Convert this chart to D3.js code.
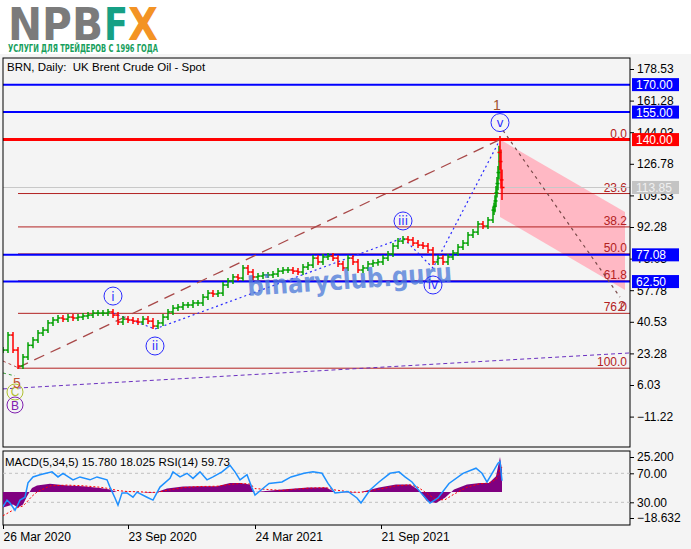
<!DOCTYPE html>
<html>
<head>
<meta charset="utf-8">
<script src="https://cdnjs.cloudflare.com/ajax/libs/d3/7.8.5/d3.min.js"></script>
<style>
body { margin: 0; background: #f4f4f4; }
svg { display: block; font-family: "Liberation Sans", Arial, sans-serif; }
</style>
</head>
<body>
<svg id="chart" width="691" height="549"></svg>
<script>
// weekly closes, one every 5 trading days from 26 Mar 2020
var weeklyClose = [25.1, 33.3, 25.1, 16.4, 21.3, 27.7, 30.6, 34.4, 36.0, 39.9,
    41.5, 42.6, 42.0, 43.1, 42.6, 43.1, 43.7, 44.2, 45.3, 45.3,
    45.3, 45.9, 44.2, 40.4, 42.0, 41.5, 40.9, 40.4, 42.0, 40.9,
    38.2, 39.9, 43.1, 45.9, 48.0, 48.6, 49.7, 49.7, 50.8, 50.8,
    54.0, 56.2, 55.7, 56.2, 60.6, 62.8, 65.0, 64.4, 69.9, 67.7,
    65.0, 65.5, 66.1, 66.1, 66.6, 68.2, 68.8, 68.8, 68.2, 67.7,
    70.4, 71.5, 75.3, 73.2, 75.9, 76.4, 75.3, 72.1, 69.9, 75.3,
    73.2, 68.8, 69.9, 72.1, 72.7, 73.2, 75.3, 77.5, 81.9, 84.6,
    85.7, 85.2, 83.5, 82.4, 81.9, 79.7, 73.2, 75.3, 73.2, 75.9,
    78.1, 81.3, 83.5, 87.9, 89.5, 93.9, 92.8, 96.1, 101.5];
// last daily bars (open, high, low, close), days 491..499
var lastDay0 = 491;
var lastBars = [[101.5, 104, 100.5, 103.5], [103.5, 108, 102, 106.5], [106.5, 113, 105, 111],
    [111, 118, 110, 116], [116, 124, 114, 122], [122, 135, 120, 133],
    [133, 140.3, 125, 128], [128, 133, 115, 118], [118, 122, 108.6, 113.85]];

var priceTicks = [178.53, 161.28, 144.03, 126.78, 109.53, 92.28, 75.03, 57.78, 40.53, 23.28, 6.03, -11.22];
var blueLevels = [170, 155, 77.08, 62.5];
var redLevel = 140;
var lastPrice = 113.85;

var fibRatios = [0, 23.6, 38.2, 50, 61.8, 76, 100];
var fibHigh = 140, fibLow = 15.2, fibStartDay = 15;

var waveNames = ['i', 'ii', 'iii', 'iv', 'v'];
var waveDays = [110, 152, 400, 430, 497];
var waveValues = [45.3, 36.6, 86.3, 69.9, 140];
var waveStart = [15, 15.5];

var channelDays = [497, 622];
var channelTop = [140, 100.5];
var channelBottom = [97.8, 57.9];
var targetLine = [[500, 145], [617, 54]];
var purpleLine = [[0, 3.9], [626, 23.5]];
var greenLine = [[0, 12.6], [12, 11]];
var brownStub = [[0, 19.1], [15, 15.5]];

var dateDays = [0, 125, 252, 378];
var dateLabels = ['26 Mar 2020', '23 Sep 2020', '24 Mar 2021', '21 Sep 2021'];

var macdDays = [0, 10, 15, 20, 24, 29, 34, 47, 64, 80, 97, 107, 114, 124, 137, 147, 154, 164,
    180, 197, 214, 227, 237, 247, 250, 252, 279, 305, 323, 332, 349, 358, 376, 393, 407,
    415, 424, 433, 442, 451, 464, 477, 486, 493, 497, 499];
var macdHist = [-11, -9, -11, -9, -3, 3, 4.7, 5.9, 4.7, 4.2, 3, 1.8, 0, 0.2, 0.1, -0.5, 0, 2.5,
    4, 4.2, 4.2, 6.6, 6.6, 5.4, 1, 0, 1.8, 3.2, 3.2, 0, -0.3, 0, 3.2, 5.4, 5.4,
    1.8, -6.6, -7.8, -4, 1.8, 5.4, 6.6, 6.6, 11.4, 25.2, 15.78];
var macdSignal = [-17, -13, -11, -10, -7, -3, 0, 4.5, 5, 4.5, 3.5, 2.4, 1.2, 0.4, 0.2, -0.2, -0.2, 1.2,
    3.2, 4, 4.2, 5.5, 6.2, 5.8, 4, 2.5, 1.2, 2.8, 3.2, 1.5, 0, -0.2, 2, 4.5, 5.2,
    3.5, -1, -5.5, -5.5, -1.5, 3.5, 6, 6.5, 9, 16, 18.025];
var macdMax = 25.2, macdMin = -18.632;

var rsiDays = [0, 4, 7, 12, 17, 22, 25, 30, 37, 49, 55, 60, 70, 77, 87, 94, 104, 107, 112, 115,
    119, 124, 130, 134, 144, 150, 157, 167, 170, 177, 184, 190, 197, 204, 210, 219, 227, 232,
    237, 244, 249, 252, 259, 266, 279, 288, 301, 310, 319, 325, 332, 345, 354, 358, 367, 376,
    387, 396, 402, 409, 418, 427, 435, 446, 460, 473, 479, 484, 490, 495, 497, 499];
var rsiValues = [24, 33, 29, 19, 33, 37, 57, 65, 68, 72, 65, 70, 61, 65, 61, 65, 61, 51, 36, 26,
    43, 43, 37, 44, 37, 33, 51, 63, 72, 65, 70, 63, 72, 61, 65, 72, 81, 72,
    61, 68, 50, 40, 48, 56, 58, 65, 70, 72, 70, 56, 43, 45, 36, 29, 47, 58,
    70, 72, 65, 58, 43, 29, 36, 56, 70, 77, 70, 58, 72, 84, 86, 59.73];
var rsiLevels = [70, 30];

var svg = d3.select('#chart');
var left = 3, right = 630;
var mainTop = 58, mainBottom = 447;
var oscTop = 451, oscBottom = 525;
var fibColor = '#b22222';

var x = d3.scaleLinear().domain([0, 627]).range([left, right]);
var y = d3.scaleLinear().domain([-11.22, 178.53]).range([416.6, 69]);
var macdY = d3.scaleLinear().domain([macdMin, macdMax]).range([518, 457]);
var rsiY = d3.scaleLinear().domain([30, 70]).range([502.3, 473.3]);

// header
svg.append('rect').attr('width', 691).attr('height', 54).attr('fill', '#ffffff');
var logo = svg.append('g').attr('font-family', 'DejaVu Sans').attr('font-weight', 'bold').attr('font-size', 44);
logo.append('text').attr('x', 8).attr('y', 40).attr('fill', '#7b7b7b')
    .attr('textLength', 95).attr('lengthAdjust', 'spacingAndGlyphs').text('NPB');
logo.append('text').attr('x', 104).attr('y', 40).attr('fill', '#16a085')
    .attr('textLength', 24).attr('lengthAdjust', 'spacingAndGlyphs').text('F');
logo.append('text').attr('x', 128).attr('y', 40).attr('fill', '#f39324')
    .attr('textLength', 30).attr('lengthAdjust', 'spacingAndGlyphs').text('X');
svg.append('text').attr('x', 8).attr('y', 52).attr('fill', '#17a05d')
    .attr('font-family', 'DejaVu Sans Condensed, DejaVu Sans').attr('font-weight', 'bold').attr('font-size', 10.5)
    .attr('textLength', 150).attr('lengthAdjust', 'spacingAndGlyphs')
    .text('УСЛУГИ ДЛЯ ТРЕЙДЕРОВ С 1996 ГОДА');

// clip regions
var defs = svg.append('defs');
defs.append('clipPath').attr('id', 'clipMain').append('rect')
    .attr('x', left).attr('y', mainTop).attr('width', right - left).attr('height', mainBottom - mainTop);
defs.append('clipPath').attr('id', 'clipOsc').append('rect')
    .attr('x', left).attr('y', oscTop).attr('width', right - left).attr('height', oscBottom - oscTop);

var gMain = svg.append('g').attr('clip-path', 'url(#clipMain)');

// pink channel
gMain.append('polygon')
    .attr('points', [
        [x(channelDays[0]), y(channelTop[0])], [x(channelDays[1]), y(channelTop[1])],
        [x(channelDays[1]), y(channelBottom[1])], [x(channelDays[0]), y(channelBottom[0])]
    ].map(function (p) { return p.join(','); }).join(' '))
    .attr('fill', '#ffb8c4');

// fibonacci levels
fibRatios.forEach(function (r) {
    var v = fibHigh - r / 100 * (fibHigh - fibLow);
    gMain.append('line').attr('x1', x(fibStartDay)).attr('x2', right).attr('y1', y(v)).attr('y2', y(v))
        .attr('stroke', fibColor).attr('stroke-width', 1);
    gMain.append('text').attr('x', 627).attr('y', y(v) - 2).attr('text-anchor', 'end')
        .attr('font-size', 12).attr('fill', fibColor).text(r.toFixed(1));
});

// horizontal levels
gMain.append('line').attr('x1', left).attr('x2', right).attr('y1', y(lastPrice)).attr('y2', y(lastPrice))
    .attr('stroke', '#c8c8c8').attr('stroke-width', 1);
blueLevels.forEach(function (v) {
    gMain.append('line').attr('x1', left).attr('x2', right).attr('y1', y(v)).attr('y2', y(v))
        .attr('stroke', '#0000ff').attr('stroke-width', 2);
});
gMain.append('line').attr('x1', left).attr('x2', right).attr('y1', y(redLevel)).attr('y2', y(redLevel))
    .attr('stroke', '#ff0000').attr('stroke-width', 3);

var seg = d3.line().x(function (d) { return x(d[0]); }).y(function (d) { return y(d[1]); });

gMain.append('path').attr('d', seg(purpleLine)).attr('fill', 'none')
    .attr('stroke', '#6a2fc0').attr('stroke-width', 1).attr('stroke-dasharray', '4,3');
gMain.append('path').attr('d', seg(greenLine)).attr('fill', 'none')
    .attr('stroke', '#3aa03a').attr('stroke-width', 1).attr('stroke-dasharray', '3,3');
gMain.append('path').attr('d', seg(brownStub)).attr('fill', 'none')
    .attr('stroke', '#b05050').attr('stroke-width', 1).attr('stroke-dasharray', '3,3');
gMain.append('path').attr('d', seg([waveStart, [waveDays[4], waveValues[4]]])).attr('fill', 'none')
    .attr('stroke', '#a84848').attr('stroke-width', 1.3).attr('stroke-dasharray', '11,7');

var wavePts = waveDays.map(function (d, i) { return [d, waveValues[i]]; });
gMain.append('path').attr('d', seg(wavePts)).attr('fill', 'none')
    .attr('stroke', '#2a2aff').attr('stroke-width', 1.2).attr('stroke-dasharray', '2,3');
gMain.append('path').attr('d', seg(targetLine)).attr('fill', 'none')
    .attr('stroke', '#7a4a4a').attr('stroke-width', 1.2).attr('stroke-dasharray', '3,4');

// price bars
var priceBars = weeklyClose.map(function (c, i) {
    var o = i === 0 ? c : weeklyClose[i - 1];
    return { day: i * 5, o: o, c: c, h: Math.max(o, c), l: Math.min(o, c) };
});
lastBars.forEach(function (b, i) {
    priceBars.push({ day: lastDay0 + i, o: b[0], h: b[1], l: b[2], c: b[3] });
});
var bars = gMain.selectAll('g.bar').data(priceBars).enter().append('g')
    .attr('class', 'bar')
    .attr('stroke', function (d) { return d.c >= d.o ? '#00a000' : '#ff0000'; })
    .attr('stroke-width', 1.5);
bars.append('line')
    .attr('x1', function (d) { return x(d.day); }).attr('x2', function (d) { return x(d.day); })
    .attr('y1', function (d) { return y(d.h) - 3; }).attr('y2', function (d) { return y(d.l) + 3; });
bars.append('line')
    .attr('x1', function (d) { return x(d.day) - 2.5; }).attr('x2', function (d) { return x(d.day); })
    .attr('y1', function (d) { return y(d.o); }).attr('y2', function (d) { return y(d.o); });
bars.append('line')
    .attr('x1', function (d) { return x(d.day); }).attr('x2', function (d) { return x(d.day) + 2.5; })
    .attr('y1', function (d) { return y(d.c); }).attr('y2', function (d) { return y(d.c); });

// watermark
svg.append('text').attr('x', 248).attr('y', 296)
    .attr('transform', 'rotate(-4,248,296)')
    .attr('font-family', 'DejaVu Sans').attr('font-weight', 'bold').attr('font-size', 27)
    .attr('textLength', 205).attr('lengthAdjust', 'spacingAndGlyphs')
    .attr('fill', '#4a78d8').attr('opacity', 0.75).text('binaryclub.guru');

// wave labels
wavePts.forEach(function (p, i) {
    var up = i % 2 === 0;
    var cx = x(p[0]), cy = y(p[1]) + (up ? -17 : 17);
    svg.append('circle').attr('cx', cx).attr('cy', cy).attr('r', 9)
        .attr('fill', 'none').attr('stroke', '#2a2aff').attr('stroke-width', 1);
    svg.append('text').attr('x', cx).attr('y', cy + 4.5).attr('text-anchor', 'middle')
        .attr('font-family', 'DejaVu Sans').attr('font-size', 12).attr('fill', '#2a2aff')
        .text(waveNames[i]);
});
var vx = x(waveDays[4]), vy = y(waveValues[4]);
svg.append('text').attr('x', vx - 3).attr('y', vy - 30).attr('text-anchor', 'middle')
    .attr('font-size', 14).attr('fill', '#a0522d').text('1');
svg.append('text').attr('x', x(targetLine[1][0]) + 2).attr('y', y(targetLine[1][1]) + 14).attr('text-anchor', 'middle')
    .attr('font-size', 14).attr('fill', '#b03030').text('2');

// start labels
var sx = x(waveStart[0]) - 3;
svg.append('circle').attr('cx', sx).attr('cy', 392).attr('r', 8)
    .attr('fill', 'none').attr('stroke', '#b0c030').attr('stroke-width', 1);
svg.append('text').attr('x', sx).attr('y', 396).attr('text-anchor', 'middle')
    .attr('font-size', 12).attr('fill', '#b0c030').text('C');
svg.append('text').attr('x', sx + 2).attr('y', 388).attr('text-anchor', 'middle')
    .attr('font-size', 14).attr('fill', '#c05030').text('5');
svg.append('circle').attr('cx', sx).attr('cy', 405).attr('r', 8)
    .attr('fill', 'none').attr('stroke', '#8020b0').attr('stroke-width', 1);
svg.append('text').attr('x', sx).attr('y', 409.5).attr('text-anchor', 'middle')
    .attr('font-size', 12).attr('fill', '#8020b0').text('B');

// frames
svg.append('rect').attr('x', left).attr('y', mainTop).attr('width', right - left).attr('height', mainBottom - mainTop)
    .attr('fill', 'none').attr('stroke', '#000').attr('stroke-width', 1);
svg.append('rect').attr('x', left).attr('y', oscTop).attr('width', right - left).attr('height', oscBottom - oscTop)
    .attr('fill', 'none').attr('stroke', '#000').attr('stroke-width', 1);

function styleAxis(g) {
    g.select('.domain').remove();
    g.selectAll('line').attr('stroke', '#000');
    g.selectAll('text').attr('font-size', 12).attr('fill', '#000')
        .attr('font-family', '"Liberation Sans", Arial, sans-serif');
}

// price axis
svg.append('g').attr('transform', 'translate(' + right + ',0)')
    .call(d3.axisRight(y).tickValues(priceTicks).tickFormat(d3.format('.2f')).tickSize(4))
    .call(styleAxis);

function priceBox(v, bg, fg) {
    svg.append('rect').attr('x', 632).attr('y', y(v) - 6.5).attr('width', 47).attr('height', 13).attr('fill', bg);
    svg.append('text').attr('x', 636).attr('y', y(v) + 4.5).attr('font-size', 12).attr('fill', fg).text(v.toFixed(2));
}
blueLevels.forEach(function (v) { priceBox(v, '#0000ff', '#ffffff'); });
priceBox(redLevel, '#ff0000', '#ffffff');
priceBox(lastPrice, '#c4c4c4', '#f0f0f0');

svg.append('text').attr('x', 7).attr('y', 71).attr('font-size', 11.5).attr('fill', '#000')
    .style('white-space', 'pre')
    .text('BRN, Daily:  UK Brent Crude Oil - Spot');

// oscillator panel
var gOsc = svg.append('g').attr('clip-path', 'url(#clipOsc)');
rsiLevels.forEach(function (v) {
    gOsc.append('line').attr('x1', left).attr('x2', right).attr('y1', rsiY(v)).attr('y2', rsiY(v))
        .attr('stroke', '#c0c0c0').attr('stroke-dasharray', '3,3');
});
var macdPts = macdDays.map(function (d, i) { return [d, macdHist[i], macdSignal[i]]; });
gOsc.append('path')
    .attr('d', d3.area().x(function (d) { return x(d[0]); }).y0(macdY(0)).y1(function (d) { return macdY(d[1]); })(macdPts))
    .attr('fill', '#800080');
gOsc.append('path')
    .attr('d', d3.line().x(function (d) { return x(d[0]); }).y(function (d) { return macdY(d[2]); })(macdPts))
    .attr('fill', 'none').attr('stroke', '#ff0000').attr('stroke-width', 1).attr('stroke-dasharray', '2,2');
gOsc.append('path')
    .attr('d', d3.line().x(function (d) { return x(d); }).y(function (d, i) { return rsiY(rsiValues[i]); })(rsiDays))
    .attr('fill', 'none').attr('stroke', '#1e90ff').attr('stroke-width', 1.5);

svg.append('text').attr('x', 5).attr('y', 466).attr('font-size', 11.5).attr('fill', '#000')
    .text('MACD(5,34,5) 15.780 18.025 RSI(14) 59.73');

svg.append('g').attr('transform', 'translate(' + right + ',0)')
    .call(d3.axisRight(macdY).tickValues([macdMax, macdMin]).tickFormat(d3.format('.3f')).tickSize(4))
    .call(styleAxis);
svg.append('g').attr('transform', 'translate(' + right + ',0)')
    .call(d3.axisRight(rsiY).tickValues(rsiLevels).tickFormat(d3.format('.2f')).tickSize(4))
    .call(styleAxis);

// date axis
var xAxis = svg.append('g').attr('transform', 'translate(0,' + oscBottom + ')')
    .call(d3.axisBottom(x).tickValues(dateDays).tickFormat(function (d, i) { return dateLabels[i]; }).tickSize(4))
    .call(styleAxis);
xAxis.selectAll('text').attr('text-anchor', 'start').attr('x', 0);
</script>
</body>
</html>
